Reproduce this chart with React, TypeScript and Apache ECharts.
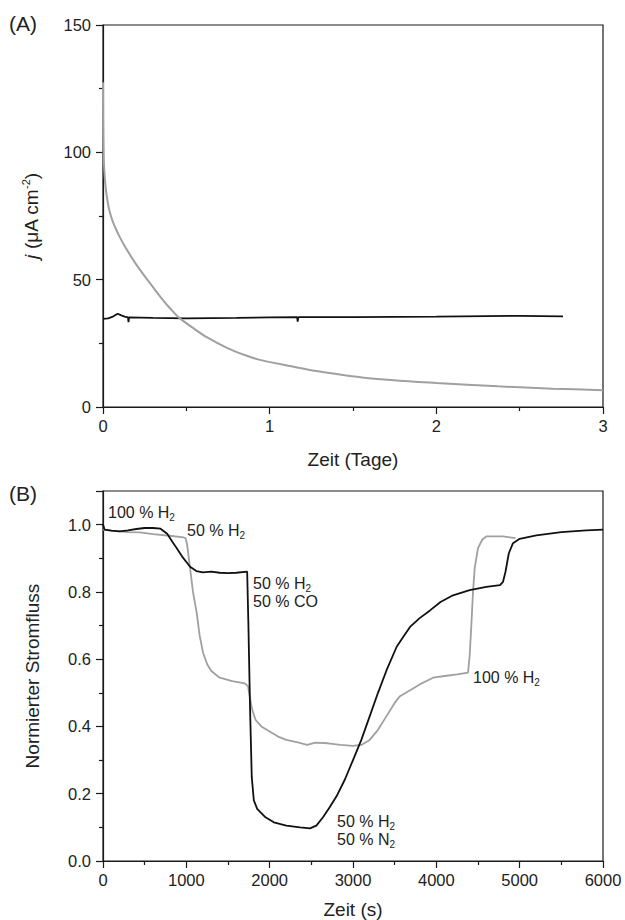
import React, { useEffect, useRef } from "react";
import * as echarts from "echarts";

// Panel A: current density j (µA cm^-2) vs time (days)
const topGray: [number, number][] = [
  [0, 127.5], [0.001, 112], [0.003, 102], [0.006, 95], [0.012, 89], [0.02, 84],
  [0.03, 79.8], [0.04, 76.8], [0.05, 74.5], [0.06, 72.6], [0.08, 69.5], [0.1, 66.8],
  [0.136, 62.5], [0.2, 55.9], [0.267, 49.9], [0.35, 42.8], [0.41, 38.2], [0.458, 35],
  [0.55, 30.6], [0.625, 27.3], [0.75, 23], [0.85, 20.4], [0.935, 18.6], [1.13, 16],
  [1.29, 14], [1.58, 11.4], [2.0, 9.4], [2.37, 8.1], [2.7, 7.2], [3.0, 6.6],
];
const topBlack: [number, number][] = [
  [0, 34.6], [0.03, 34.8], [0.06, 35.5], [0.088, 36.6], [0.11, 36], [0.13, 35.5],
  [0.15, 35.2], [0.153, 33.3], [0.156, 35.2], [0.3, 35], [0.5, 34.8], [0.8, 35],
  [1.0, 35.2], [1.165, 35.3], [1.168, 33.5], [1.172, 35.3], [1.5, 35.3], [2.0, 35.5],
  [2.3, 35.7], [2.5, 35.8], [2.76, 35.6],
];

// Panel B: normalized current vs time (s)
const bottomBlack: [number, number][] = [
  [0, 1.0], [20, 0.985], [100, 0.982], [200, 0.98], [300, 0.983], [400, 0.987],
  [500, 0.99], [600, 0.99], [690, 0.988], [770, 0.973], [830, 0.95], [885, 0.93],
  [950, 0.905], [1045, 0.875], [1120, 0.862], [1200, 0.858], [1300, 0.86], [1400, 0.857],
  [1500, 0.856], [1600, 0.857], [1730, 0.86], [1745, 0.7], [1765, 0.45], [1785, 0.25],
  [1810, 0.18], [1850, 0.155], [1950, 0.13], [2050, 0.115], [2200, 0.105], [2364, 0.1],
  [2484, 0.097], [2560, 0.105], [2640, 0.13], [2720, 0.16], [2804, 0.193], [2904, 0.243],
  [3000, 0.3], [3100, 0.36], [3200, 0.43], [3300, 0.5], [3404, 0.568], [3524, 0.637],
  [3600, 0.665], [3684, 0.696], [3800, 0.722], [3924, 0.745], [4050, 0.77], [4200, 0.79],
  [4400, 0.805], [4600, 0.815], [4764, 0.82], [4800, 0.83], [4830, 0.86], [4870, 0.915],
  [4920, 0.945], [5000, 0.958], [5200, 0.968], [5500, 0.978], [5800, 0.983], [6000, 0.985],
];
const bottomGray: [number, number][] = [
  [0, 0.985], [100, 0.982], [200, 0.98], [300, 0.978], [444, 0.977], [600, 0.972],
  [800, 0.967], [965, 0.962], [990, 0.96], [1010, 0.94], [1030, 0.9], [1045, 0.87],
  [1080, 0.8], [1125, 0.737], [1160, 0.67], [1200, 0.62], [1250, 0.585], [1300, 0.565],
  [1400, 0.545], [1550, 0.535], [1700, 0.528], [1740, 0.52], [1760, 0.49], [1790, 0.45],
  [1830, 0.42], [1900, 0.4], [2000, 0.385], [2100, 0.37], [2200, 0.36], [2350, 0.352],
  [2450, 0.345], [2550, 0.352], [2700, 0.35], [2850, 0.345], [3000, 0.342], [3100, 0.345],
  [3200, 0.36], [3300, 0.39], [3400, 0.43], [3500, 0.47], [3564, 0.49], [3700, 0.51],
  [3800, 0.525], [3960, 0.545], [4100, 0.55], [4250, 0.555], [4380, 0.56], [4400, 0.61],
  [4420, 0.7], [4440, 0.8], [4460, 0.87], [4500, 0.93], [4550, 0.955], [4600, 0.965],
  [4800, 0.965], [4950, 0.96],
];

const panelLabels = ["(A)", "(B)"];
const gasLabels = [
  "100 % H{s|2}",
  "50 % H{s|2}",
  "50 % H{s|2}",
  "50 % CO",
  "100 % H{s|2}",
  "50 % H{s|2}",
  "50 % N{s|2}",
];

const FONT = "'Liberation Sans', Arial, Helvetica, sans-serif";
const INK = "#1a1a1a";
const TXT = "#222";

function axisCommon(extra: any) {
  return {
    type: "value",
    axisLine: { show: true, onZero: false, lineStyle: { color: INK, width: 1.2 } },
    axisTick: { show: true, inside: false, length: 7, lineStyle: { color: INK, width: 1.2 } },
    minorTick: { show: true, splitNumber: 2, length: 4, lineStyle: { color: INK, width: 1.2 } },
    splitLine: { show: false },
    minorSplitLine: { show: false },
    axisLabel: { color: TXT, fontSize: 16.5, fontFamily: FONT, margin: 10, formatter: (v: number) => String(v) },
    nameTextStyle: { color: TXT, fontSize: 19, fontFamily: FONT },
    nameLocation: "middle",
    ...extra,
  };
}

export default function App() {
  const ref = useRef<HTMLDivElement>(null);
  useEffect(() => {
    if (!ref.current) return;
    const chart = echarts.init(ref.current, undefined, { renderer: "svg" });
    const sub = { s: { fontSize: 10, lineHeight: 10, verticalAlign: "bottom", fontFamily: FONT, fill: TXT } };
    const annStyle = (t: string) => ({
      text: t,
      fontSize: 16,
      fontFamily: FONT,
      fill: TXT,
      lineHeight: 20,
      verticalAlign: "middle",
      rich: sub,
    });
    const annPos = [
      [108, 512], [187, 530], [253, 583], [253, 601], [473, 677], [337, 821], [337, 839],
    ];
    const option: any = {
      animation: false,
      backgroundColor: "#fff",
      textStyle: { fontFamily: FONT },
      grid: [
        { left: 103, top: 25, width: 500, height: 382, show: true, borderColor: INK, borderWidth: 1.2, backgroundColor: "transparent" },
        { left: 103, top: 491, width: 500, height: 371, show: true, borderColor: INK, borderWidth: 1.2, backgroundColor: "transparent" },
      ],
      xAxis: [
        axisCommon({ gridIndex: 0, min: 0, max: 3, interval: 1, name: "Zeit (Tage)", nameGap: 43 }),
        axisCommon({ gridIndex: 1, min: 0, max: 6000, interval: 1000, name: "Zeit (s)", nameGap: 39 }),
      ],
      yAxis: [
        axisCommon({
          gridIndex: 0, min: 0, max: 150, interval: 50,
          name: "{i|j} (μA cm{p|-2})", nameGap: 61,
          axisLabel: { color: TXT, fontSize: 16.5, fontFamily: FONT, margin: 12 },
          nameTextStyle: {
            color: TXT, fontSize: 19, fontFamily: FONT, lineHeight: 22,
            rich: {
              i: { fontStyle: "italic", fontSize: 19, fontFamily: FONT, color: TXT, lineHeight: 22 },
              p: { fontSize: 11, lineHeight: 11, verticalAlign: "top", fontFamily: FONT, color: TXT },
            },
          },
        }),
        axisCommon({
          gridIndex: 1, min: 0, max: 1.1, interval: 0.2,
          name: "Normierter Stromfluss", nameGap: 61,
          axisLabel: {
            color: TXT, fontSize: 16.5, fontFamily: FONT, margin: 12, showMaxLabel: false,
            formatter: (v: number) => v.toFixed(1),
          },
        }),
      ],
      series: [
        { type: "line", xAxisIndex: 0, yAxisIndex: 0, data: topBlack, showSymbol: false, lineStyle: { color: "#111", width: 1.8 }, z: 2 },
        { type: "line", xAxisIndex: 0, yAxisIndex: 0, data: topGray, showSymbol: false, smooth: 0.3, lineStyle: { color: "#a0a0a0", width: 2 }, z: 3 },
        { type: "line", xAxisIndex: 1, yAxisIndex: 1, data: bottomGray, showSymbol: false, lineStyle: { color: "#a0a0a0", width: 1.8 }, z: 2 },
        { type: "line", xAxisIndex: 1, yAxisIndex: 1, data: bottomBlack, showSymbol: false, lineStyle: { color: "#111", width: 1.8 }, z: 3 },
      ],
      graphic: [
        { type: "text", x: 9, y: 23, style: { text: panelLabels[0], fontSize: 21, fontFamily: FONT, fill: TXT, verticalAlign: "middle" } },
        { type: "text", x: 9, y: 493, style: { text: panelLabels[1], fontSize: 21, fontFamily: FONT, fill: TXT, verticalAlign: "middle" } },
        ...gasLabels.map((t, k) => ({ type: "text", x: annPos[k][0], y: annPos[k][1], style: annStyle(t) })),
      ],
    };
    chart.setOption(option);
    return () => chart.dispose();
  }, []);
  return <div ref={ref} style={{ position: "absolute", left: 0, top: 0, width: 625, height: 920 }} />;
}
